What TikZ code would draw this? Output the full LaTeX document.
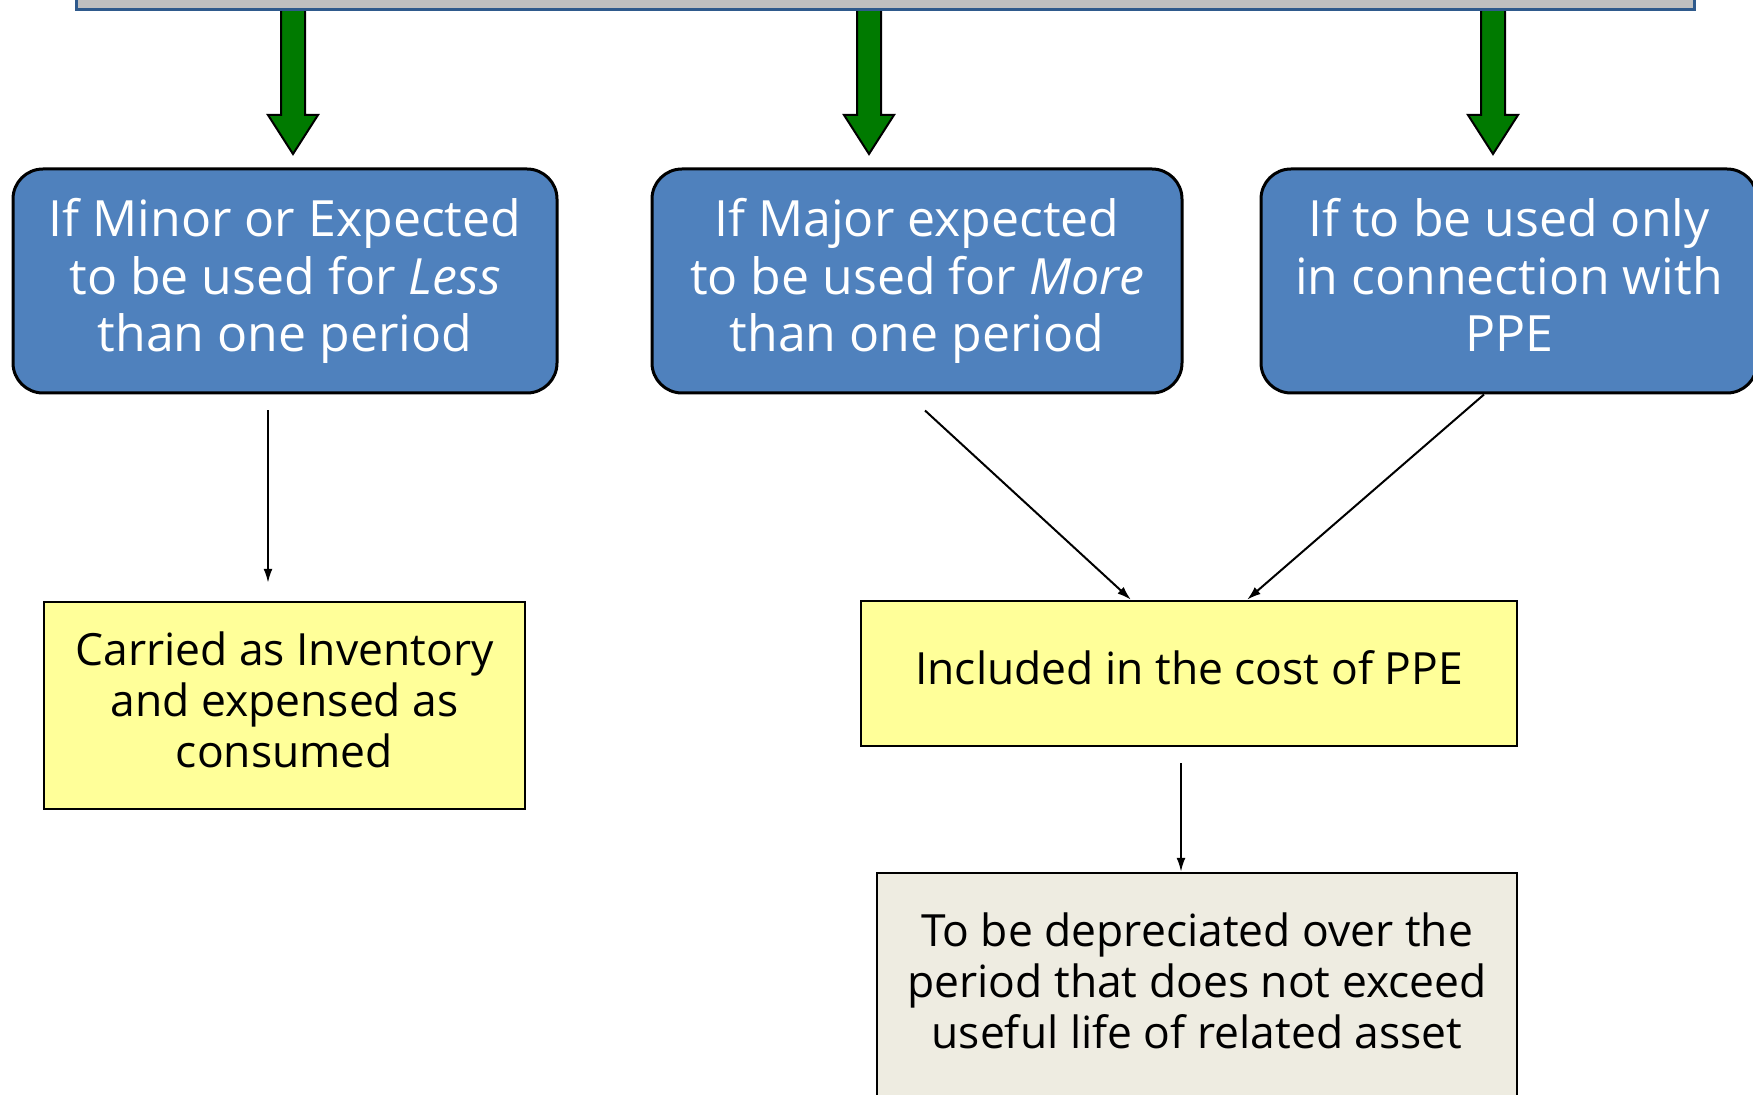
\documentclass[tikz,border=0pt]{standalone}
\usepackage{fontspec}
\setmainfont{Open Sans}
\usetikzlibrary{arrows.meta,calc}

\definecolor{headgrey}{HTML}{C0C0C0}
\definecolor{headline}{HTML}{2F5A8C}
\definecolor{casegreen}{HTML}{007A00}
\definecolor{caseblue}{HTML}{4F81BD}
\definecolor{resultyellow}{HTML}{FFFF99}
\definecolor{resultbeige}{HTML}{EEECE1}

\begin{document}
\begin{tikzpicture}[x=0.5pt,y=-0.5pt,
	casebox/.style={draw=black,line width=1.5pt,fill=caseblue,rounded corners=15pt,text=white,align=center,minimum height=112pt,font=\fontsize{25}{28.75}\selectfont,execute at end node={\rule[-6pt]{0pt}{0pt}}},
	resultbox/.style={draw=black,line width=1.2pt,fill=resultyellow,align=center,font=\fontsize{22.2}{25.6}\selectfont,execute at end node={\rule[-5.6pt]{0pt}{0pt}}},
	greenarr/.style={draw=black,line width=1pt,fill=casegreen},
	conn/.style={-{Latex[length=7pt,width=4.5pt]},line width=1pt}]
	\useasboundingbox (0,0) rectangle (1753,1095);
	
	
	
	% green arrows from the heading
	\foreach \c in {293,869,1493}
		\filldraw[greenarr] (\c-12,4) -- (\c-12,115) -- (\c-25,115) -- (\c,154) -- (\c+25,115) -- (\c+12,115) -- (\c+12,4);
	
	% heading box (cut off at the top)
	\node[draw=headline,line width=1.5pt,fill=headgrey,minimum width=809pt,minimum height=50pt] (head) at (885,-40) {};
	
	
	
	% the three cases
	\node[casebox,minimum width=272pt] (minor) at (285,281) {If Minor or Expected\\to be used for \textit{Less}\\than one period};
	\node[casebox,minimum width=265pt] (major) at (917,281) {If Major expected\\to be used for \textit{More}\\than one period};
	\node[casebox,minimum width=248pt] (only) at (1509,281) {If to be used only\\in connection with\\PPE};
	
	
	
	% results
	\node[resultbox,minimum width=240.5pt,minimum height=103.5pt] (inv) at (284.5,705.5) {Carried as Inventory\\and expensed as\\consumed};
	\node[resultbox,minimum width=328pt,minimum height=72.5pt] (ppe) at (1189,673.5) {Included in the cost of PPE};
	\node[resultbox,fill=resultbeige,minimum width=320pt,minimum height=113.5pt] (depr) at (1197,986.5) {To be depreciated over the\\period that does not exceed\\useful life of related asset};
	
	
	
	% connectors
	\draw[conn,shorten <=8pt,shorten >=9pt] ([xshift=-8.5pt]minor.south) -- ([xshift=-8.5pt]minor.south |- inv.north);
	\draw[conn] ([xshift=4pt,yshift=-8pt]major.south) -- ([xshift=-29pt]ppe.north);
	\draw[conn] ([xshift=-12.5pt]only.south) -- ([xshift=29pt]ppe.north);
	\draw[conn,shorten <=8pt] ([xshift=-4pt]ppe.south) -- ([xshift=-4pt]ppe.south |- depr.north);
	 
\end{tikzpicture}
\end{document}
